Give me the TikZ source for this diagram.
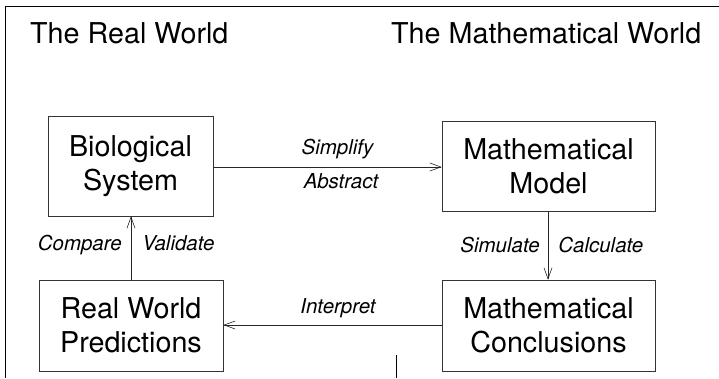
\documentclass[tikz,border=0pt]{standalone}
\usepackage{fontspec}
\setmainfont{TeX Gyre Heros}
\usetikzlibrary{arrows.meta}
\begin{document}
\begin{tikzpicture}[x=1pt,y=1pt,
  box/.style={draw=black!80, line width=0.6pt, align=center, inner sep=0pt,
    font=\fontsize{28.7}{34.4}\selectfont},
  title/.style={anchor=base west, inner sep=0pt, font=\fontsize{28.7}{34.4}\selectfont},
  lab/.style={inner sep=0pt, font=\fontsize{20.5}{24}\selectfont\itshape},
  conn/.style={draw=black!85, line width=0.6pt, -{Straight Barb[length=11pt,width=8pt]}},
  frame/.style={draw=black, line width=0.8pt}]
\useasboundingbox (0,0) rectangle (719,378);
\draw[frame] (5,0) -- (5,372) -- (719,372);
\draw[frame] (396,0) -- (396,23);

\node[title] (trw) at (30,334) {The Real World};
\node[title] (tmw) at (391,334) {The Mathematical World};

\node[box, minimum width=165pt, minimum height=100pt] (bio) at (130.5,212) {Biological\\System};
\node[box, minimum width=213pt, minimum height=90pt] (model) at (548.5,212) {Mathematical\\Model};
\node[box, minimum width=184pt, minimum height=91pt] (pred) at (131,52.5) {Real World\\Predictions};
\node[box, minimum width=213pt, minimum height=91pt] (concl) at (548.5,52.5) {Mathematical\\Conclusions};

\draw[conn] (bio.east |- 0,211) -- (model.west |- 0,211)
  node[lab, midway, anchor=base, xshift=10pt, yshift=13pt] {Simplify}
  node[lab, midway, anchor=base, xshift=13.5pt, yshift=-21pt] {Abstract};
\draw[conn] (model.south -| 548,0) -- (concl.north -| 548,0)
  node[lab, midway, anchor=base east, xshift=-8pt, yshift=-6.5pt] {Simulate}
  node[lab, midway, anchor=base west, xshift=10pt, yshift=-6.5pt] {Calculate};
\draw[conn] (concl.west |- 0,53) -- (pred.east |- 0,53)
  node[lab, midway, anchor=base, xshift=5.5pt, yshift=12pt] {Interpret};
\draw[conn] (pred.north -| 131,0) -- (bio.south -| 131,0)
  node[lab, midway, anchor=base east, xshift=-9pt, yshift=-2pt] {Compare}
  node[lab, midway, anchor=base west, xshift=11pt, yshift=-2pt] {Validate};
\end{tikzpicture}
\end{document}
